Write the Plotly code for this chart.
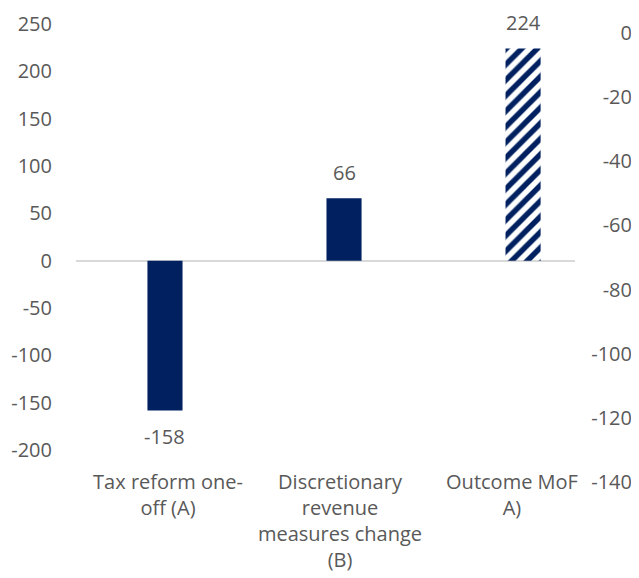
import plotly.graph_objects as go

categories = ["Tax reform one-<br>off (A)", "Discretionary<br>revenue<br>measures change<br>(B)", "Outcome MoF<br>A)"]
values = [-158, 66, 224]
hatched = [False, False, True]
left_ticks = [-200, -150, -100, -50, 0, 50, 100, 150, 200, 250]
right_ticks = [-140, -120, -100, -80, -60, -40, -20, 0]

NAVY = "#002060"
GREY = "#595959"
FONT = dict(family="Open Sans", size=20, color=GREY)
n = len(values)

fig = go.Figure()
fig.add_trace(go.Bar(
    x=categories, y=values, width=0.196,
    marker=dict(
        color=[NAVY] * n,
        line=dict(width=0),
        pattern=dict(shape=["/" if h else "" for h in hatched],
                     bgcolor="white", size=11, solidity=0.5, fillmode="replace"),
    ),
    xaxis="x", yaxis="y", showlegend=False,
))
# invisible helper traces: category labels axis and secondary value axis
fig.add_trace(go.Scatter(x=categories, y=[None] * n, xaxis="x2", yaxis="y2",
                         mode="markers", showlegend=False, hoverinfo="skip"))

for c, v in zip(categories, values):
    fig.add_annotation(x=c, y=v, xref="x", yref="y", text=str(v), showarrow=False,
                       yanchor="middle", yshift=26 if v >= 0 else -26, font=FONT)

XDOM = [0, 0.8863]
XR = [-0.497, 2.29]
fig.update_layout(
    width=631, height=570,
    margin=dict(l=68, r=0, t=4, b=72),
    paper_bgcolor="white", plot_bgcolor="white",
    font=FONT,
    xaxis=dict(type="category", domain=XDOM, range=XR, showticklabels=False, showgrid=False,
               zeroline=False, showline=False, ticks="", anchor="y", automargin=False),
    xaxis2=dict(type="category", domain=XDOM, range=[-0.5349, 2.3663], overlaying="x",
                anchor="free", position=0.0779, side="bottom", showgrid=False, zeroline=False,
                showline=False, ticks="", tickfont=FONT, ticklabelstandoff=0, tickangle=0,
                automargin=False),
    yaxis=dict(range=[-258.94, 262.67], tickvals=left_ticks, ticktext=[str(v) for v in left_ticks],
               showgrid=False, zeroline=True,
               zerolinecolor="#d9d9d9", zerolinewidth=1.5, showline=False, ticks="",
               tickfont=FONT, ticklabelstandoff=23, automargin=False),
    yaxis2=dict(range=[-147.49, 6.55], tickvals=right_ticks, ticktext=[str(v) for v in right_ticks],
                overlaying="y", side="right", anchor="free", position=1,
                ticklabelposition="inside", ticklabelstandoff=4,
                showgrid=False, zeroline=False, showline=False, ticks="", tickfont=FONT,
                automargin=False),
)
fig.write_html("out.html")
